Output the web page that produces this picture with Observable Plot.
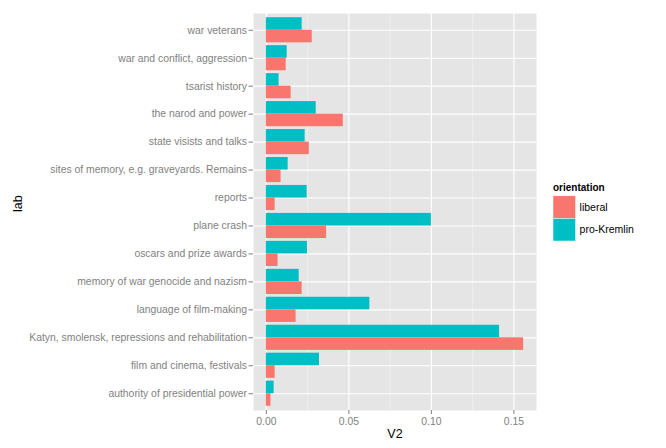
<!DOCTYPE html>
<html>
<head>
<meta charset="utf-8">
<script src="https://cdn.jsdelivr.net/npm/d3@7"></script>
<script src="https://cdn.jsdelivr.net/npm/@observablehq/plot@0.6"></script>
<style>
  html, body { margin: 0; padding: 0; background: #fff; }
  #chart svg { font-family: "Liberation Sans", Arial, sans-serif; }
  #chart [aria-label="y-axis tick label"], #chart [aria-label="x-axis tick label"] { fill: #7f7f7f; }
  #chart [aria-label="y-axis tick"], #chart [aria-label="x-axis tick"] { stroke: #7f7f7f; }
</style>
</head>
<body>
<div id="chart"></div>
<script>
// Categories, top to bottom
const categories = [
  "war veterans",
  "war and conflict, aggression",
  "tsarist history",
  "the narod and power",
  "state visists and talks",
  "sites of memory, e.g. graveyards. Remains",
  "reports",
  "plane crash",
  "oscars and prize awards",
  "memory of war genocide and nazism",
  "language of film-making",
  "Katyn, smolensk, repressions and rehabilitation",
  "film and cinema, festivals",
  "authority of presidential power"
];
const liberal = [0.0278, 0.0120, 0.0150, 0.0466, 0.0260, 0.0089, 0.0053, 0.0365, 0.0071, 0.0217, 0.0180, 0.1559, 0.0053, 0.0028];
const proKremlin = [0.0217, 0.0126, 0.0077, 0.0302, 0.0235, 0.0132, 0.0247, 0.1000, 0.0249, 0.0199, 0.0627, 0.1413, 0.0322, 0.0047];
const groups = ["liberal", "pro-Kremlin"];
const groupColors = ["#F8766D", "#00BFC4"];
const xTicks = [0, 0.05, 0.10, 0.15];
const xMinorTicks = [0.025, 0.075, 0.125];
const xLabel = "V2";
const yLabel = "lab";
const legendTitle = "orientation";

const rows = [];
categories.forEach((c, i) => {
  rows.push({lab: c, orientation: groups[0], V2: liberal[i]});
  rows.push({lab: c, orientation: groups[1], V2: proKremlin[i]});
});

const W = 666, H = 448;
const mTop = 13, mBottom = 38, mLeft = 253, mRight = 130;
const pInner = 0.1, pOuter = 0.15;
const step = (H - mTop - mBottom) / (categories.length - pInner + 2 * pOuter);
const half = step * (1 - pInner) / 2;

const maxV = d3.max(rows, d => d.V2);
const pad = maxV * 0.05;

const plot = Plot.plot({
  width: W,
  height: H,
  marginTop: mTop,
  marginBottom: mBottom,
  marginLeft: mLeft,
  marginRight: mRight,
  x: {domain: [0 - pad, maxV + pad]},
  y: {type: "band", domain: categories, paddingInner: pInner, paddingOuter: pOuter, round: false},
  color: {domain: groups, range: groupColors},
  marks: [
    Plot.frame({fill: "#E5E5E5", stroke: "none"}),
    Plot.gridX({ticks: xMinorTicks, stroke: "#F2F2F2", strokeOpacity: 1, strokeWidth: 0.7}),
    Plot.gridX({ticks: xTicks, stroke: "#ffffff", strokeOpacity: 1, strokeWidth: 1.2}),
    Plot.gridY({stroke: "#ffffff", strokeOpacity: 1, strokeWidth: 1.2}),
    Plot.barX(rows.filter(d => d.orientation === groups[1]), {x: "V2", y: "lab", fill: "orientation", insetBottom: half}),
    Plot.barX(rows.filter(d => d.orientation === groups[0]), {x: "V2", y: "lab", fill: "orientation", insetTop: half}),
    Plot.axisY({label: null, tickSize: 4.5, tickPadding: 2, fontSize: 10.4}),
    Plot.axisX({ticks: xTicks, tickFormat: d3.format(".2f"), label: null, tickSize: 4, tickPadding: 3, fontSize: 10.4}),
    Plot.text([xLabel], {frameAnchor: "bottom", dy: 27.5, fontSize: 12.5, fill: "black"}),
    Plot.text([yLabel], {frameAnchor: "left", dx: -(mLeft - 17), rotate: -90, fontSize: 12.5, fill: "black"})
  ]
});
document.getElementById("chart").appendChild(plot);

// ggplot-style legend
const svg = d3.select(plot);
const lg = svg.append("g").attr("transform", "translate(553,0)").attr("text-anchor", "start");
lg.append("text").attr("x", 0).attr("y", 190.5).attr("font-size", 10).attr("font-weight", "bold").attr("fill", "black").text(legendTitle);
const key = 22.6, keyTop = 195.8;
groups.forEach((g, i) => {
  lg.append("rect").attr("x", 0).attr("y", keyTop + i * key).attr("width", key).attr("height", key)
    .attr("fill", groupColors[i]).attr("stroke", "#ffffff").attr("stroke-width", 0.5);
  lg.append("text").attr("x", key + 4).attr("y", keyTop + i * key + key / 2).attr("dy", "0.35em")
    .attr("font-size", 10.5).attr("fill", "black").text(g);
});
</script>
</body>
</html>
